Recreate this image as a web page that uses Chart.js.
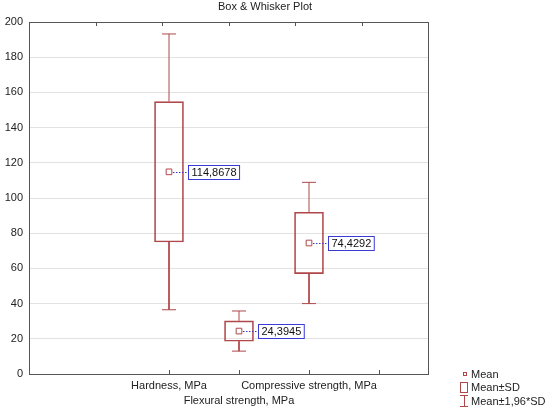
<!DOCTYPE html>
<html>
<head>
<meta charset="utf-8">
<title>Box & Whisker Plot</title>
<script src="https://cdn.jsdelivr.net/npm/chart.js@4.4.1/dist/chart.umd.min.js"></script>
<style>
	html, body { margin: 0; padding: 0; background: #fff; }
	#wrap { width: 551px; height: 412px; }
</style>
</head>
<body>
<div id="wrap"><canvas id="chart" width="551" height="412"></canvas></div>
<script>
// values
const categories = ['Hardness, MPa', 'Flexural strength, MPa', 'Compressive strength, MPa'];
const means = [114.8678, 24.3945, 74.4292];
const sdLow = [75.0, 18.6, 57.0];      // mean - SD
const sdHigh = [154.8, 30.2, 91.9];    // mean + SD
const ciLow = [36.5, 13.0, 40.0];      // mean - 1.96*SD
const ciHigh = [193.2, 35.8, 108.9];   // mean + 1.96*SD
const yTicks = [0, 20, 40, 60, 80, 100, 120, 140, 160, 180, 200];

const RED = '#b0474b';
const BLUE = '#3a3ad8';
const AXIS = '#555555';
const FONT = '"Liberation Sans", Arial, sans-serif';
const capHalf = 0.1; // whisker cap half width, x units

const xPos = categories.map(function(c, i) { return i + 2; });

function whiskerData() {
	//vertical whiskers and caps, split with null points
	var pts = [];
	xPos.forEach(function(x, i) {
		pts.push({x: x, y: sdHigh[i]}, {x: x, y: ciHigh[i]}, {x: x, y: null});
		pts.push({x: x - capHalf, y: ciHigh[i]}, {x: x + capHalf, y: ciHigh[i]}, {x: x, y: null});
		pts.push({x: x, y: sdLow[i]}, {x: x, y: ciLow[i]}, {x: x, y: null});
		pts.push({x: x - capHalf, y: ciLow[i]}, {x: x + capHalf, y: ciLow[i]}, {x: x, y: null});
	});
	return pts;
}

function fmt(v) {
	return v.toFixed(4).replace('.', ',');
}

const framePlugin = {
	id: 'frame',
	afterDraw: function(chart) {
		const ctx = chart.ctx;
		const a = chart.chartArea;
		const xs = chart.scales.x;
		ctx.save();
		//box round the plot
		ctx.strokeStyle = AXIS;
		ctx.lineWidth = 1;
		ctx.strokeRect(a.left + 0.5, a.top + 0.5, a.right - a.left, a.bottom - a.top);
		ctx.beginPath();
		//inward ticks at the bottom
		xs.ticks.forEach(function(t) {
			var px = Math.round(xs.getPixelForValue(t.value)) + 0.5;
			ctx.moveTo(px, a.bottom);
			ctx.lineTo(px, a.bottom - 4);
		});
		//inward ticks at the top
		for (var k = 1; k < 6; k++) {
			var tx = Math.round(a.left + k * (a.right - a.left) / 6) + 0.5;
			ctx.moveTo(tx, a.top);
			ctx.lineTo(tx, a.top + 4);
		}
		ctx.stroke();

		//mean labels
		ctx.font = '11px ' + FONT;
		ctx.textBaseline = 'middle';
		means.forEach(function(m, i) {
			var px = xs.getPixelForValue(xPos[i]);
			var py = Math.round(chart.scales.y.getPixelForValue(m)) + 0.5;
			var txt = fmt(m);
			var w = ctx.measureText(txt).width + 6;
			ctx.strokeStyle = BLUE;
			ctx.setLineDash([1.5, 1.5]);
			ctx.beginPath();
			ctx.moveTo(px + 4, py);
			ctx.lineTo(px + 19, py);
			ctx.stroke();
			ctx.setLineDash([]);
			ctx.fillStyle = '#fff';
			ctx.fillRect(px + 19.5, py - 7, w, 14);
			ctx.strokeRect(px + 19.5, py - 7, w, 14);
			ctx.fillStyle = '#111';
			ctx.textAlign = 'left';
			ctx.fillText(txt, px + 22.5, py + 0.5);
		});

		//title
		ctx.fillStyle = '#222';
		ctx.textAlign = 'center';
		ctx.fillText('Box & Whisker Plot', 265, 7);

		//legend
		ctx.textAlign = 'left';
		ctx.strokeStyle = RED;
		ctx.strokeRect(463.5, 372.5, 3, 3);
		ctx.fillText('Mean', 471, 375);
		ctx.strokeRect(460.5, 382.5, 7, 10);
		ctx.fillText('Mean±SD', 471, 388);
		ctx.beginPath();
		ctx.moveTo(460, 395.5); ctx.lineTo(468, 395.5);
		ctx.moveTo(464.5, 395.5); ctx.lineTo(464.5, 406.5);
		ctx.moveTo(460, 406.5); ctx.lineTo(468, 406.5);
		ctx.stroke();
		ctx.fillText('Mean±1,96*SD', 471, 402);
		ctx.restore();
	}
};

document.addEventListener("DOMContentLoaded", function(event) {
	const ctx = document.getElementById('chart');
	new Chart(ctx, {
		type: 'bar',
		data: {
			datasets: [{
				//mean points
				type: 'scatter',
				data: xPos.map(function(x, i) { return {x: x, y: means[i]}; }),
				pointStyle: 'rect',
				pointRadius: 4,
				borderColor: RED,
				backgroundColor: 'rgba(0,0,0,0)',
				borderWidth: 1,
				order: 0
			}, {
				//whiskers
				type: 'line',
				data: whiskerData(),
				borderColor: RED,
				borderWidth: 1,
				pointRadius: 0,
				spanGaps: false,
				fill: false,
				order: 1
			}, {
				//boxes, mean +- SD
				type: 'bar',
				data: xPos.map(function(x, i) { return {x: x, y: [sdLow[i], sdHigh[i]]}; }),
				backgroundColor: 'rgba(255,255,255,0)',
				borderColor: RED,
				borderWidth: 1,
				borderSkipped: false,
				barThickness: 29,
				order: 2
			}]
		},
		options: {
			responsive: false,
			animation: false,
			layout: { padding: { top: 22, right: 123, left: 0, bottom: 0 } },
			plugins: {
				legend: { display: false },
				tooltip: { enabled: false },
				title: { display: false }
			},
			scales: {
				x: {
					type: 'linear',
					offset: false,
					min: 0,
					max: 5.7,
					afterBuildTicks: function(scale) {
						scale.ticks = [2, 3, 4, 5].map(function(v) { return {value: v}; });
					},
					afterFit: function(scale) { scale.height = 38; },
					grid: { display: false, drawTicks: false, offset: false },
					border: { color: AXIS },
					ticks: {
						autoSkip: false,
						maxRotation: 0,
						padding: 5,
						color: '#222',
						font: { family: FONT, size: 11, lineHeight: 1.35 },
						callback: function(value) {
							var i = xPos.indexOf(value);
							if (i < 0) return '';
							return i % 2 === 1 ? ['', categories[i]] : categories[i];
						}
					}
				},
				y: {
					min: 0,
					max: 200,
					afterBuildTicks: function(scale) {
						scale.ticks = yTicks.map(function(v) { return {value: v}; });
					},
					afterFit: function(scale) { scale.width = 29; },
					grid: { color: '#e2e2e2', drawTicks: false },
					border: { color: AXIS },
					ticks: {
						padding: 6,
						color: '#222',
						font: { family: FONT, size: 11 }
					}
				}
			}
		},
		plugins: [framePlugin]
	});
});
</script>
</body>
</html>
